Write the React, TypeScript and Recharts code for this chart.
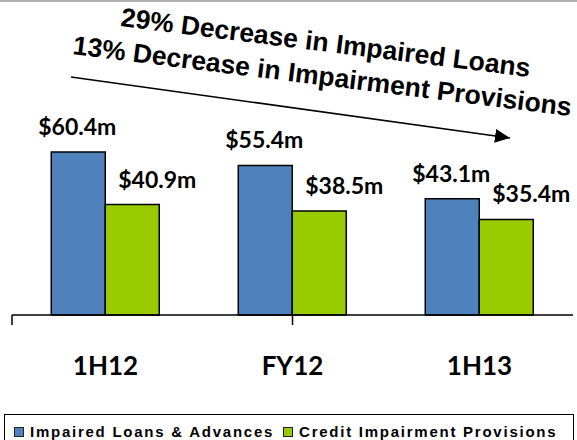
import React from 'react';
import { BarChart, Bar, XAxis, YAxis, LabelList } from 'recharts';

const periods = ['1H12', 'FY12', '1H13'];
const impairedLoans = [60.4, 55.4, 43.1];
const impairmentProvisions = [40.9, 38.5, 35.4];
const seriesNames = ['Impaired Loans & Advances', 'Credit Impairment Provisions'];
const headlines = ['29% Decrease in Impaired Loans', '13% Decrease in Impairment Provisions'];
const edgeTicks = [0, 1, 2, 3];

const BLUE = '#4f81bd';
const GREEN = '#99cc00';
const COLORS = [BLUE, GREEN];

const data = periods.map((period, i) => ({
  period,
  loans: impairedLoans[i],
  provisions: impairmentProvisions[i]
}));

const valueLabel = (dx: number) => (props: any) => {
  const vb = props.viewBox || {};
  const x = props.x ?? vb.x;
  const y = props.y ?? vb.y;
  const width = props.width ?? vb.width;
  return (
    <text
      x={x + width / 2 + dx}
      y={y - 17}
      textAnchor="middle"
      fontFamily="Lato, sans-serif"
      fontWeight={700}
      fontSize={23}
      fill="#000"
    >
      {`$${Number(props.value).toFixed(1)}m`}
    </text>
  );
};

const PeriodTick = (props: any) => {
  const { x, y, payload } = props;
  return (
    <text
      x={x}
      y={y + 48}
      textAnchor="middle"
      fontFamily="Lato, sans-serif"
      fontWeight={700}
      fontSize={26}
      fill="#000"
    >
      {payload.value}
    </text>
  );
};

function Headline() {
  return (
    <svg width={577} height={440} style={{ position: 'absolute', left: 0, top: 0, pointerEvents: 'none' }}>
      <defs>
        <marker id="arrow-head" markerWidth={16} markerHeight={16} refX={15} refY={8} orient="auto" markerUnits="userSpaceOnUse">
          <path d="M0,1 L15,8 L0,15 Z" fill="#000" />
        </marker>
      </defs>
      <g fontFamily="'Liberation Sans', Arial, sans-serif" fontWeight={700} fontSize={26.5} fill="#000">
        <text x={120} y={26} transform="rotate(7.1 120 26)">{headlines[0]}</text>
        <text x={72} y={54} transform="rotate(7.1 72 54)">{headlines[1]}</text>
      </g>
      <line x1={71} y1={77} x2={510} y2={138} stroke="#000" strokeWidth={1.6} markerEnd="url(#arrow-head)" />
    </svg>
  );
}

function LegendBox() {
  return (
    <div
      style={{
        position: 'absolute',
        left: 4,
        top: 414,
        width: 570,
        height: 34,
        border: '1.5px solid #000',
        boxSizing: 'border-box',
        display: 'flex',
        flexWrap: 'nowrap',
        whiteSpace: 'nowrap',
        alignItems: 'flex-start',
        paddingTop: 9,
        paddingLeft: 9,
        fontFamily: "'Liberation Sans', Arial, sans-serif",
        fontWeight: 700,
        fontSize: 15,
        letterSpacing: 1.75,
        lineHeight: '16px',
        color: '#000'
      }}
    >
      {seriesNames.map((name, i) => (
        <span key={name} style={{ display: 'flex', alignItems: 'center', flexShrink: 0, marginRight: 9 }}>
          <span
            style={{
              width: 8,
              height: 8,
              background: COLORS[i],
              border: '1px solid #222',
              marginRight: 6,
              display: 'inline-block',
              flexShrink: 0
            }}
          />
          <span>{name}</span>
        </span>
      ))}
    </div>
  );
}

export default function App() {
  return (
    <div style={{ position: 'absolute', left: 0, top: 0, width: 577, height: 440, background: '#fff', overflow: 'hidden' }}>
      <div style={{ position: 'absolute', left: 0, top: 0, width: 577, height: 2, background: '#b0b0b0' }} />
      <BarChart
        width={577}
        height={440}
        data={data}
        margin={{ top: 126, right: 4, left: 12, bottom: 53 }}
        barGap={0}
        barCategoryGap="21%"
      >
        <XAxis
          xAxisId="edges"
          type="number"
          domain={[0, 3]}
          ticks={edgeTicks}
          allowDataOverflow
          height={12}
          tickFormatter={() => ''}
          tickSize={10}
          axisLine={{ stroke: '#000', strokeWidth: 1.5 }}
          tickLine={{ stroke: '#000', strokeWidth: 1.5 }}
        />
        <XAxis
          xAxisId="period"
          dataKey="period"
          height={60}
          axisLine={false}
          tickLine={false}
          tickSize={0}
          tickMargin={0}
          tick={<PeriodTick />}
        />
        <YAxis hide domain={[0, 70]} />
        <Bar xAxisId="period" dataKey="loans" fill={BLUE} stroke="#000" strokeWidth={1.5} isAnimationActive={false}>
          <LabelList dataKey="loans" content={valueLabel(-1)} />
        </Bar>
        <Bar xAxisId="period" dataKey="provisions" fill={GREEN} stroke="#000" strokeWidth={1.5} isAnimationActive={false}>
          <LabelList dataKey="provisions" content={valueLabel(25)} />
        </Bar>
      </BarChart>
      <Headline />
      <LegendBox />
    </div>
  );
}
